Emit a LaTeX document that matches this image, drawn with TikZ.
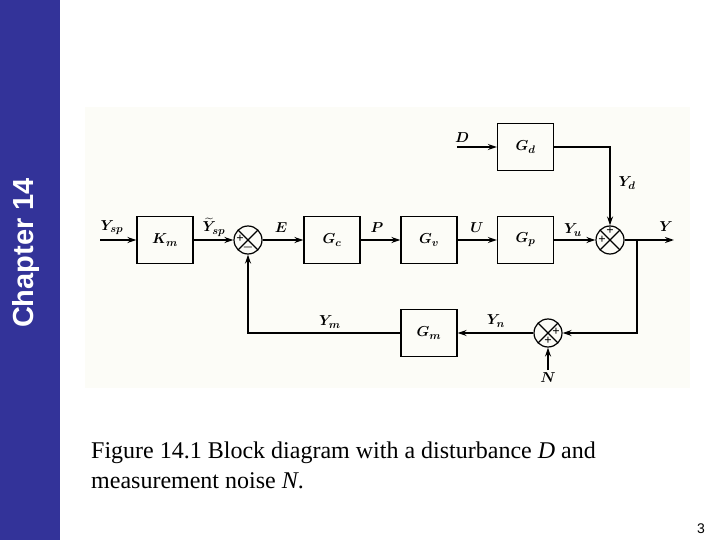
\documentclass[tikz,border=0pt]{standalone}
\usepackage{fontspec}
\setmainfont{Liberation Serif}
\newfontfamily\sidefont{Liberation Sans}
\usepackage{amsmath}
\usetikzlibrary{arrows.meta}
\definecolor{sidebar}{RGB}{51,51,153}
\definecolor{scanbg}{RGB}{252,252,247}

\tikzset{
  blk/.style={draw, line width=1.2pt, minimum width=56pt, minimum height=47pt,
    inner sep=0pt, font=\fontsize{15}{15}\selectfont\boldmath},
  sumpt/.style={draw, circle, line width=1.2pt, minimum size=28pt, inner sep=0pt,
    path picture={\draw[line width=1.1pt]
      (path picture bounding box.north west) -- (path picture bounding box.south east)
      (path picture bounding box.north east) -- (path picture bounding box.south west);}},
  sig/.style={line width=2pt, -{Stealth[length=9pt,width=6pt]}},
  lbl/.style={font=\fontsize{15}{15}\selectfont\boldmath, inner sep=0pt},
  sgn/.style={font=\fontsize{13}{13}\selectfont\bfseries, inner sep=0pt},
}

\begin{document}
\begin{tikzpicture}[x=1pt,y=-1pt]
  \useasboundingbox (0,0) rectangle (720,540);
  \fill[white] (0,0) rectangle (720,540);

  % side bar
  \fill[sidebar] (0,0) rectangle (60,540);
  \node[rotate=90, anchor=base, text=white, inner sep=0pt,
    font=\sidefont\bfseries\fontsize{29}{29}\selectfont] (chap) at (33,253) {Chapter 14};

  % scanned figure area
  \fill[scanbg] (85,107) rectangle (690,388);

  % blocks
  \node[blk] (km) at (165,240) {$K_m$};
  \node[sumpt] (s1) at (248,240) {};
  \node[blk] (gc) at (332,240) {$G_c$};
  \node[blk] (gv) at (429,240) {$G_v$};
  \node[blk] (gp) at (525.5,240) {$G_p$};
  \node[sumpt] (s2) at (610,240) {};
  \node[blk] (gd) at (525.5,147) {$G_d$};
  \node[blk] (gm) at (429,333) {$G_m$};
  \node[sumpt] (s3) at (548,333) {};

  % free ends
  \coordinate (ysp) at (100,240);
  \coordinate (yout) at (674,240);
  \coordinate (dsrc) at (457,147);
  \coordinate (nsrc) at (548,370);
  \coordinate (br) at (637,240);

  % signals
  \draw[sig] (ysp) -- (km);
  \draw[sig] (km) -- (s1);
  \draw[sig] (s1) -- (gc);
  \draw[sig] (gc) -- (gv);
  \draw[sig] (gv) -- (gp);
  \draw[sig] (gp) -- (s2);
  \draw[sig] (s2) -- (yout);
  \draw[sig] (dsrc) -- (gd);
  \draw[sig] (gd) -| (s2);
  \draw[sig] (br) |- (s3);
  \draw[sig] (nsrc) -- (s3);
  \draw[sig] (s3) -- (gm);
  \draw[sig] (gm) -| (s1);

  % signal labels
  \node[lbl] (lysp) at (112,228) {$Y_{sp}$};
  \node[lbl] (lyspt) at (214,227) {$\widetilde{Y}_{sp}$};
  \node[lbl] (le) at (281,228) {$E$};
  \node[lbl] (lp) at (377,228) {$P$};
  \node[lbl] (lu) at (477,228) {$U$};
  \node[lbl] (lyu) at (573,230) {$Y_u$};
  \node[lbl] (ly) at (666,227) {$Y$};
  \node[lbl] (lyd) at (627,183) {$Y_d$};
  \node[lbl] (ld) at (462,138) {$D$};
  \node[lbl] (lym) at (330,322) {$Y_m$};
  \node[lbl] (lyn) at (496,321) {$Y_n$};
  \node[lbl] (ln) at (548,378) {$N$};

  % signs
  \node[sgn] (p1) at (240,239) {+};
  \node[sgn] (m1) at (248,248) {$\boldsymbol{-}$};
  \node[sgn] (p2) at (610,231) {+};
  \node[sgn] (p3) at (602,240) {+};
  \node[sgn] (p4) at (556,332) {+};
  \node[sgn] (p5) at (548,341) {+};

  % caption
  \node[anchor=base west, inner sep=0pt, font=\fontsize{24}{24}\selectfont] (cap1) at (91,458)
    {Figure 14.1 Block diagram with a disturbance \textit{D} and};
  \node[anchor=base west, inner sep=0pt, font=\fontsize{24}{24}\selectfont] (cap2) at (91,488)
    {measurement noise \textit{N}.};

  % page number
  \node[font=\sidefont\fontsize{14}{14}\selectfont] (pg) at (701,529) {3};
\end{tikzpicture}
\end{document}
